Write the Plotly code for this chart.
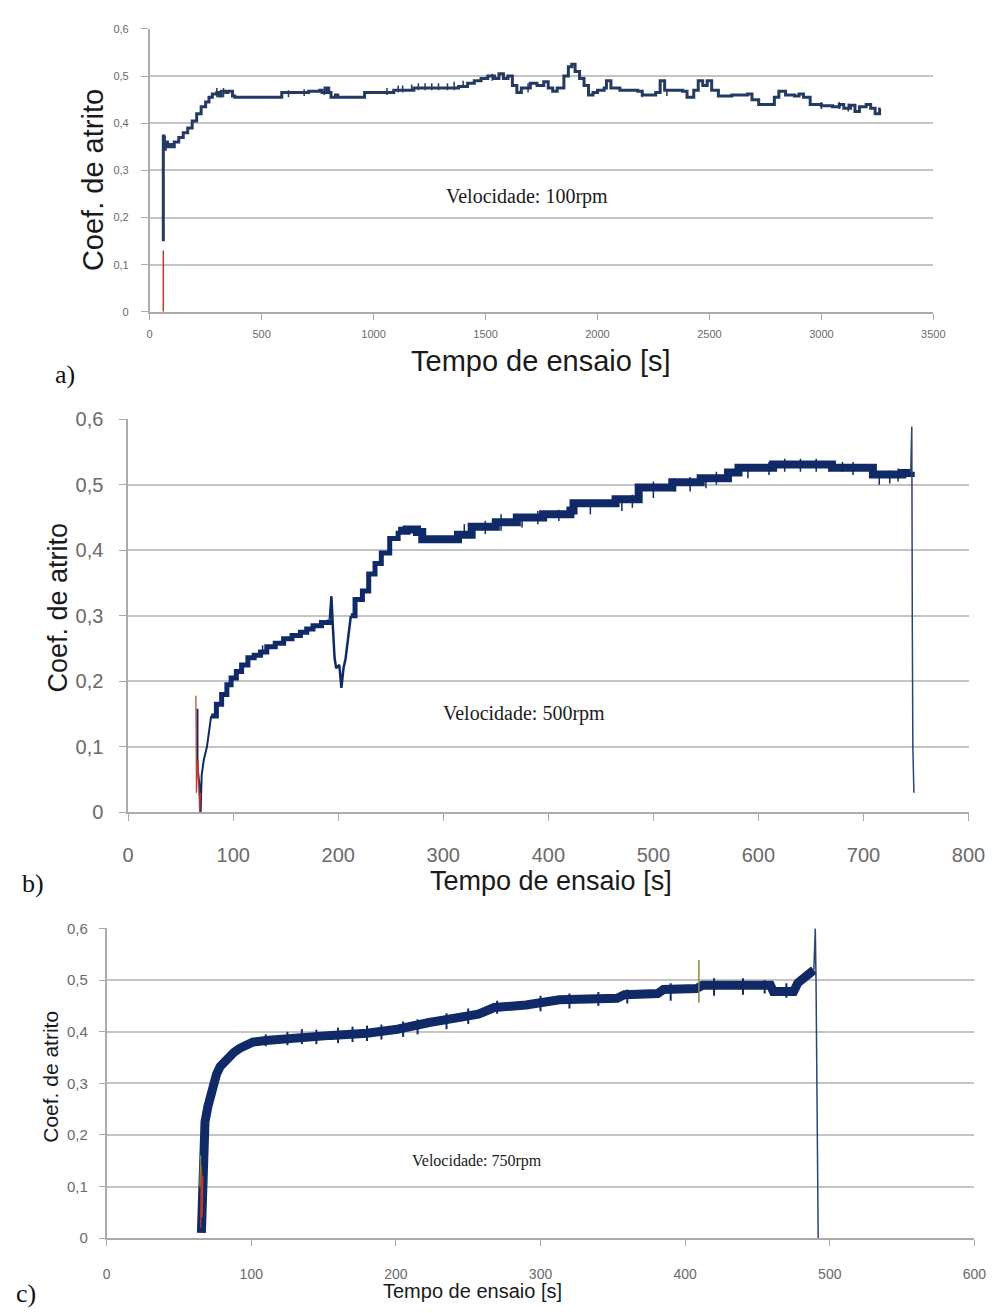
import plotly.graph_objects as go

W, H = 1008, 1313

# ---------------- a) Velocidade 100 rpm ----------------
a_red_time = [61, 61]
a_red_coef = [0.0, 0.13]
a_time = [61, 61, 64, 66, 70, 80, 90, 100, 110, 130, 150, 170, 190, 210, 230, 250, 265,
          280, 300, 310, 320, 340, 350, 370, 380, 580, 590, 700, 710, 760, 770, 790, 800,
          810, 830, 840, 950, 960, 1080, 1090, 1150, 1180, 1300, 1380, 1420, 1450, 1480,
          1510, 1540, 1560, 1580, 1600, 1620, 1640, 1660, 1700, 1730, 1760, 1780, 1800,
          1820, 1850, 1870, 1885, 1900, 1920, 1940, 1960, 1980, 2000, 2030, 2040, 2060,
          2100, 2180, 2200, 2260, 2280, 2300, 2380, 2400, 2430, 2450, 2470, 2490, 2510,
          2540, 2600, 2670, 2690, 2720, 2770, 2790, 2810, 2840, 2880, 2900, 2920, 2950,
          3000, 3050, 3080, 3100, 3130, 3150, 3170, 3200, 3220, 3240, 3260, 3265]
a_coef = [0.15, 0.373, 0.37, 0.345, 0.36, 0.35, 0.355, 0.35, 0.36, 0.37, 0.38, 0.39, 0.405,
          0.42, 0.435, 0.445, 0.455, 0.462, 0.465, 0.458, 0.468, 0.465, 0.468, 0.458, 0.455,
          0.455, 0.465, 0.465, 0.468, 0.47, 0.465, 0.475, 0.465, 0.455, 0.46, 0.455, 0.455,
          0.465, 0.465, 0.47, 0.47, 0.475, 0.475, 0.478, 0.485, 0.49, 0.495, 0.5, 0.495,
          0.505, 0.495, 0.5, 0.48, 0.465, 0.475, 0.485, 0.48, 0.488, 0.475, 0.468, 0.475,
          0.5, 0.52, 0.525, 0.51, 0.495, 0.48, 0.46, 0.465, 0.47, 0.475, 0.49, 0.475, 0.47,
          0.468, 0.46, 0.465, 0.49, 0.47, 0.468, 0.455, 0.47, 0.49, 0.48, 0.49, 0.47, 0.458,
          0.46, 0.462, 0.45, 0.44, 0.44, 0.455, 0.468, 0.46, 0.458, 0.462, 0.455, 0.44,
          0.437, 0.435, 0.44, 0.432, 0.438, 0.425, 0.435, 0.44, 0.432, 0.42, 0.43, 0.43]
# short excursions of the signal (time, min, max)
a_spike_time = [300, 330, 620, 690, 780, 1060, 1110, 1130, 1170, 1200, 1230, 1260, 1290,
                1330, 1360, 1400, 1530, 1690, 2200, 2310, 3000, 3080, 3120]
a_spike_low = [0.455, 0.455, 0.455, 0.458, 0.46, 0.46, 0.465, 0.465, 0.47, 0.47, 0.47,
               0.47, 0.47, 0.47, 0.47, 0.475, 0.49, 0.465, 0.455, 0.458, 0.43, 0.43, 0.425]
a_spike_high = [0.475, 0.475, 0.47, 0.472, 0.478, 0.475, 0.48, 0.48, 0.482, 0.485, 0.485,
                0.485, 0.485, 0.485, 0.488, 0.49, 0.505, 0.485, 0.47, 0.47, 0.445, 0.445,
                0.442]

# ---------------- b) Velocidade 500 rpm ----------------
b_red_time = [64.5, 65, 66.5, 68, 69]
b_red_coef = [0.178, 0.03, 0.08, 0.0, 0.03]
b_start_time = [66, 66, 68, 69, 70, 72, 75, 79]
b_start_coef = [0.158, 0.07, 0.04, 0.0, 0.057, 0.08, 0.1, 0.147]
b_rise_time = [79, 84, 89, 94, 98, 103, 108, 114, 120, 126, 132, 140, 148, 156, 164, 170,
               176, 184, 192]
b_rise_coef = [0.147, 0.165, 0.18, 0.195, 0.205, 0.215, 0.225, 0.236, 0.24, 0.245, 0.253,
               0.258, 0.265, 0.27, 0.275, 0.28, 0.285, 0.29, 0.295]
b_dip_time = [192, 193.5, 195, 196.5, 198, 201, 203, 205, 207, 210, 212]
b_dip_coef = [0.295, 0.33, 0.28, 0.236, 0.22, 0.225, 0.19, 0.22, 0.235, 0.27, 0.3]
b_climb_time = [212, 216, 223, 229, 235, 241, 249, 257]
b_climb_coef = [0.3, 0.325, 0.338, 0.364, 0.38, 0.396, 0.418, 0.43]
b_band_time = [257, 265, 275, 280, 303, 314, 327, 350, 370, 395, 421, 424, 464, 486, 518,
               545, 571, 581, 614, 667, 670, 707, 709, 737, 745]
b_band_coef = [0.43, 0.432, 0.428, 0.417, 0.417, 0.424, 0.436, 0.443, 0.45, 0.455, 0.461,
               0.472, 0.478, 0.496, 0.504, 0.51, 0.519, 0.526, 0.531, 0.531, 0.526, 0.526,
               0.516, 0.518, 0.52]
b_spike_time = [128, 320, 340, 355, 375, 390, 410, 440, 470, 480, 500, 520, 535, 550, 560,
                590, 610, 625, 640, 655, 680, 690, 715, 725, 733]
b_spike_low = [0.24, 0.42, 0.425, 0.43, 0.435, 0.44, 0.445, 0.455, 0.46, 0.465, 0.48, 0.49,
               0.49, 0.495, 0.5, 0.51, 0.515, 0.52, 0.52, 0.52, 0.52, 0.515, 0.5, 0.502,
               0.505]
b_spike_high = [0.255, 0.44, 0.445, 0.455, 0.455, 0.46, 0.462, 0.475, 0.48, 0.485, 0.505,
                0.51, 0.512, 0.515, 0.52, 0.532, 0.535, 0.54, 0.54, 0.54, 0.535, 0.535,
                0.52, 0.522, 0.525]
b_end_time = [745, 746, 746.5, 747, 748]
b_end_coef = [0.52, 0.589, 0.28, 0.1, 0.03]

# ---------------- c) Velocidade 750 rpm ----------------
c_red_time = [65, 65.5, 66, 66.5]
c_red_coef = [0.02, 0.14, 0.04, 0.12]
c_green_time = [64.5, 65]
c_green_coef = [0.10, 0.16]
c_marker_time = [409.5, 409.5]
c_marker_coef = [0.457, 0.539]
c_band_time = [65.5, 66, 66.5, 67, 68, 70, 72, 74, 76, 78.6, 82, 85, 88, 92, 96, 101, 110,
               133, 155, 180, 201, 223, 240, 257, 268, 290, 313, 353, 358, 381, 385, 408,
               412, 459, 461, 475, 478, 482, 487, 489]
c_band_coef = [0.01, 0.1, 0.17, 0.2, 0.225, 0.255, 0.28, 0.303, 0.318, 0.333, 0.345, 0.352,
               0.36, 0.368, 0.375, 0.38, 0.383, 0.386, 0.393, 0.397, 0.405, 0.418, 0.428,
               0.434, 0.447, 0.452, 0.462, 0.465, 0.472, 0.474, 0.482, 0.484, 0.49, 0.49,
               0.478, 0.478, 0.495, 0.505, 0.515, 0.52]
c_spike_time = [110, 125, 135, 145, 160, 170, 180, 190, 205, 215, 235, 250, 270, 300, 320,
                340, 360, 390, 420, 440, 455, 470]
c_spike_low = [0.372, 0.374, 0.376, 0.376, 0.378, 0.38, 0.382, 0.385, 0.39, 0.395, 0.405,
               0.415, 0.435, 0.44, 0.445, 0.45, 0.455, 0.46, 0.47, 0.472, 0.474, 0.466]
c_spike_high = [0.395, 0.4, 0.405, 0.404, 0.408, 0.41, 0.412, 0.414, 0.42, 0.424, 0.436,
                0.445, 0.46, 0.47, 0.474, 0.477, 0.482, 0.494, 0.504, 0.504, 0.5, 0.494]
c_end_time = [489, 490, 490.5, 491, 491.5, 492]
c_end_coef = [0.52, 0.6, 0.5, 0.3, 0.1, 0.0]

# ---------------- ticks ----------------
y_tick_vals = [0, 0.1, 0.2, 0.3, 0.4, 0.5, 0.6]
y_tick_text = ["0", "0,1", "0,2", "0,3", "0,4", "0,5", "0,6"]
a_x_ticks = [0, 500, 1000, 1500, 2000, 2500, 3000, 3500]
b_x_ticks = [0, 100, 200, 300, 400, 500, 600, 700, 800]
c_x_ticks = [0, 100, 200, 300, 400, 500, 600]

NAVY_A = "#243a63"
NAVY = "#0f2a66"
RED = "#c0392b"
GREEN = "#7c8c3c"


def px_x(p):
    return p / W


def px_y(p):
    return 1 - p / H


fig = go.Figure()


def line(x, y, color, width, ax, shape="linear"):
    fig.add_trace(go.Scatter(x=x, y=y, mode="lines", xaxis="x" + ax, yaxis="y" + ax,
                             line=dict(color=color, width=width, shape=shape),
                             hoverinfo="skip", showlegend=False))


def spikes(t, lo, hi, color, width, ax):
    xs, ys = [], []
    for ti, l, h in zip(t, lo, hi):
        xs += [ti, ti, None]
        ys += [l, h, None]
    line(xs, ys, color, width, ax)


line(a_time, a_coef, NAVY_A, 3, "", "hv")
spikes(a_spike_time, a_spike_low, a_spike_high, NAVY_A, 1.5, "")
line(a_red_time, a_red_coef, RED, 1.5, "")

line(b_start_time, b_start_coef, NAVY, 2, "2")
line(b_rise_time, b_rise_coef, NAVY, 5, "2", "hv")
line(b_dip_time, b_dip_coef, NAVY, 2.5, "2")
line(b_climb_time, b_climb_coef, NAVY, 5, "2", "hv")
line(b_band_time, b_band_coef, NAVY, 8, "2", "hv")
spikes(b_spike_time, b_spike_low, b_spike_high, NAVY, 1.5, "2")
line(b_end_time, b_end_coef, "#2c4470", 1.5, "2")
line(b_red_time, b_red_coef, RED, 1.2, "2")

line(c_band_time, c_band_coef, NAVY, 9, "3")
spikes(c_spike_time, c_spike_low, c_spike_high, NAVY, 2, "3")
line(c_end_time, c_end_coef, "#2c4470", 1.5, "3")
line(c_red_time, c_red_coef, RED, 1.3, "3")
line(c_green_time, c_green_coef, GREEN, 1.3, "3")
line(c_marker_time, c_marker_coef, GREEN, 1.5, "3")

GRID = "#c4c4c4"
AXC = "#ababab"


def xaxis(x0, x1, rng, ticks, font_size, standoff, ticklen, anchor):
    return dict(domain=[px_x(x0), px_x(x1)], range=rng, tickvals=ticks, anchor=anchor,
                ticktext=[str(t) for t in ticks], showgrid=False, zeroline=False,
                showline=True, linecolor=AXC, linewidth=1.5, ticks="outside",
                ticklen=ticklen, tickwidth=1.3, tickcolor=AXC,
                tickfont=dict(family="Liberation Sans", size=font_size, color="#6a6a6a"),
                ticklabelstandoff=standoff, fixedrange=True)


def yaxis(y_top, y_bot, anchor, font_size, standoff, ticklen):
    return dict(domain=[px_y(y_bot), px_y(y_top)], range=[0, 0.6005], anchor=anchor,
                tickvals=y_tick_vals, ticktext=y_tick_text, showgrid=True,
                gridcolor=GRID, gridwidth=1.5, zeroline=False, showline=True,
                linecolor=AXC, linewidth=1.5, ticks="outside", ticklen=ticklen,
                tickwidth=1.3, tickcolor=AXC,
                tickfont=dict(family="Liberation Sans", size=font_size, color="#6a6a6a"),
                ticklabelstandoff=standoff, fixedrange=True)


fig.update_layout(
    width=W, height=H, margin=dict(l=0, r=0, t=0, b=0),
    paper_bgcolor="white", plot_bgcolor="white", showlegend=False,
    xaxis=xaxis(147, 949, [0, 3500], a_x_ticks, 11, 5, 6, "y"),
    yaxis=yaxis(18, 306, "x", 11, 10, 7),
    xaxis2=xaxis(125, 985, [0, 800], b_x_ticks, 20, 17, 7, "y2"),
    yaxis2=yaxis(415, 815, "x2", 20, 12, 7),
    xaxis3=xaxis(103, 991, [0, 600], c_x_ticks, 14, 16, 6, "y3"),
    yaxis3=yaxis(933, 1248, "x3", 15, 8, 6),
)

# darker grid rules
for ax, lvl, col in [("2", 0.2, "#8c8c8c"), ("2", 0.5, "#9a9a9a"), ("3", 0.5, "#8a8a8a")]:
    fig.add_shape(type="line", xref="x" + ax + " domain", yref="y" + ax,
                  x0=0, x1=1, y0=lvl, y1=lvl, line=dict(color=col, width=1.5), layer="below")


def text(x, y, s, size, family="Liberation Sans", color="#1a1a1a", angle=0, xanchor="center"):
    fig.add_annotation(x=px_x(x), y=px_y(y), xref="paper", yref="paper", text=s,
                       showarrow=False, textangle=angle, xanchor=xanchor, yanchor="middle",
                       font=dict(family=family, size=size, color=color))


# axis titles
text(89, 172, "Coef. de atrito", 29, angle=-90)
text(547, 356, "Tempo de ensaio [s]", 29)
text(53, 607, "Coef. de atrito", 27, angle=-90)
text(558, 885, "Tempo de ensaio [s]", 27)
text(46, 1084, "Coef. de atrito", 21, angle=-90)
text(477, 1302, "Tempo de ensaio [s]", 20)

# speed labels
text(533, 189, "Velocidade: 100rpm", 20, family="Liberation Serif")
text(530, 714, "Velocidade: 500rpm", 20, family="Liberation Serif")
text(482, 1170, "Velocidade: 750rpm", 16, family="Liberation Serif")

# panel letters
text(48, 370, "a)", 26, family="Liberation Serif", color="#111", xanchor="left")
text(14, 887, "b)", 26, family="Liberation Serif", color="#111", xanchor="left")
text(8, 1304, "c)", 26, family="Liberation Serif", color="#111", xanchor="left")

fig.write_html("out.html")
